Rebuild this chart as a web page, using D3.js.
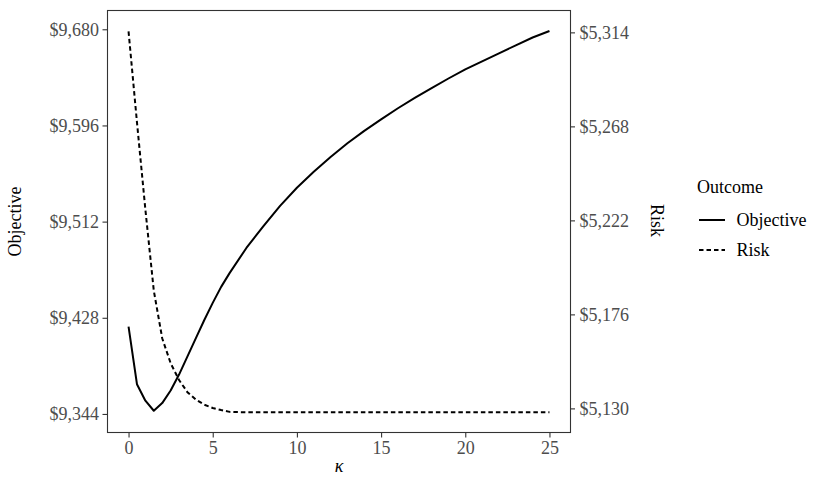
<!DOCTYPE html>
<html><head><meta charset="utf-8">
<script src="https://cdn.jsdelivr.net/npm/d3@7"></script>
<style>
body{margin:0;background:#fff}
</style>
</head><body>
<svg id="chart" width="830" height="485"></svg>
<script>
// ---- data ----
const kappa = [0, 0.5, 1, 1.5, 2, 2.5, 3, 3.5, 4, 4.5, 5, 5.5, 6, 7, 8, 9, 10, 11, 12, 13, 14, 15, 16, 17, 18, 19, 20, 21, 22, 23, 24, 25];
const objective = [9420.3, 9370, 9355.6, 9346.8, 9353.5, 9364.5, 9378.4, 9394.3, 9410.2, 9426.1, 9441, 9455, 9467, 9489, 9507.8, 9525.8, 9541.6, 9555.5, 9568.5, 9580.5, 9591.3, 9601.3, 9611, 9620, 9628.6, 9637, 9645, 9652, 9659, 9666, 9672.8, 9678.5];
const risk = [5314.5, 5270, 5227.3, 5187.6, 5164.3, 5152.1, 5143.9, 5137.9, 5134.3, 5131.8, 5130.2, 5129.2, 5128.3, 5128.1, 5128.1, 5128.1, 5128.1, 5128.1, 5128.1, 5128.1, 5128.1, 5128.1, 5128.1, 5128.1, 5128.1, 5128.1, 5128.1, 5128.1, 5128.1, 5128.1, 5128.1, 5128.1];
const objectiveTicks = [9344, 9428, 9512, 9596, 9680];
const riskTicks = [5130, 5176, 5222, 5268, 5314];
const kappaTicks = [0, 5, 10, 15, 20, 25];
const seriesNames = ["Objective", "Risk"];
const legendTitle = "Outcome";
const xTitle = "κ";

// ---- layout ----
const FONT = "Liberation Serif";
const panel = {left: 107.5, right: 570.5, top: 10.5, bottom: 432.5};
const svg = d3.select("#chart");
const fmt = d3.format("$,.0f");

const xExp = 0.05 * (d3.max(kappa) - d3.min(kappa));
const x = d3.scaleLinear().domain([d3.min(kappa) - xExp, d3.max(kappa) + xExp]).range([panel.left, panel.right]);
const yObjLimits = [9327.8, 9696.4];
const yRiskLimits = [5118.2, 5324.7];
const yL = d3.scaleLinear().domain(yObjLimits).range([panel.bottom, panel.top]);
const yR = d3.scaleLinear().domain(yRiskLimits).range([panel.bottom, panel.top]);

const tickColor = "#333333";
const labelColor = "#4d4d4d";
const fs = 18;

// panel
svg.append("rect").attr("x", panel.left).attr("y", panel.top)
  .attr("width", panel.right - panel.left).attr("height", panel.bottom - panel.top)
  .attr("fill", "none").attr("stroke", tickColor).attr("stroke-width", 1.1);

// axes
function styleAxis(g) {
  g.attr("font-family", FONT).attr("font-size", fs);
  g.select(".domain").remove();
  g.selectAll(".tick line").attr("stroke", tickColor).attr("stroke-width", 1.1);
  g.selectAll(".tick text").attr("fill", labelColor).attr("font-family", FONT).attr("font-size", fs);
}
const gL = svg.append("g").attr("transform", `translate(${panel.left},0)`)
  .call(d3.axisLeft(yL).tickValues(objectiveTicks).tickFormat(fmt).tickSize(5).tickPadding(3.5));
styleAxis(gL);
const gR = svg.append("g").attr("transform", `translate(${panel.right},0)`)
  .call(d3.axisRight(yR).tickValues(riskTicks).tickFormat(fmt).tickSize(4.5).tickPadding(4.5));
styleAxis(gR);
const gB = svg.append("g").attr("transform", `translate(0,${panel.bottom})`)
  .call(d3.axisBottom(x).tickValues(kappaTicks).tickFormat(d3.format("d")).tickSize(5).tickPadding(4));
styleAxis(gB);

// lines
const lineObj = d3.line().x((d, i) => x(kappa[i])).y(d => yL(d));
const lineRisk = d3.line().x((d, i) => x(kappa[i])).y(d => yR(d));
svg.append("path").datum(objective).attr("d", lineObj)
  .attr("fill", "none").attr("stroke", "#000").attr("stroke-width", 2).attr("stroke-linejoin", "round");
svg.append("path").datum(risk).attr("d", lineRisk)
  .attr("fill", "none").attr("stroke", "#000").attr("stroke-width", 2).attr("stroke-dasharray", "4.5,3");

// axis titles
const midY = (panel.top + panel.bottom) / 2;
function txt(sel) { return sel.attr("font-family", FONT).attr("font-size", fs).attr("fill", "#000"); }
txt(svg.append("text")).text(seriesNames[0]).attr("transform", `translate(21,${midY}) rotate(-90)`)
  .attr("text-anchor", "middle");
txt(svg.append("text")).text(seriesNames[1]).attr("transform", `translate(650.5,${midY - 1}) rotate(90)`)
  .attr("text-anchor", "middle");
txt(svg.append("text")).text(xTitle).attr("x", (panel.left + panel.right) / 2).attr("y", 472)
  .attr("text-anchor", "middle").attr("font-size", 18).attr("font-style", "italic");

// legend
const lg = svg.append("g");
txt(lg.append("text")).text(legendTitle).attr("x", 697).attr("y", 193);
const keys = [{name: seriesNames[0], dash: null}, {name: seriesNames[1], dash: "4.5,3"}];
keys.forEach((k, i) => {
  const yy = 220 + i * 30;
  lg.append("line").attr("x1", 699).attr("x2", 725).attr("y1", yy).attr("y2", yy)
    .attr("stroke", "#000").attr("stroke-width", 2).attr("stroke-dasharray", k.dash);
  txt(lg.append("text")).text(k.name).attr("x", 736.5).attr("y", yy).attr("dy", "0.35em");
});
</script>
</body></html>
